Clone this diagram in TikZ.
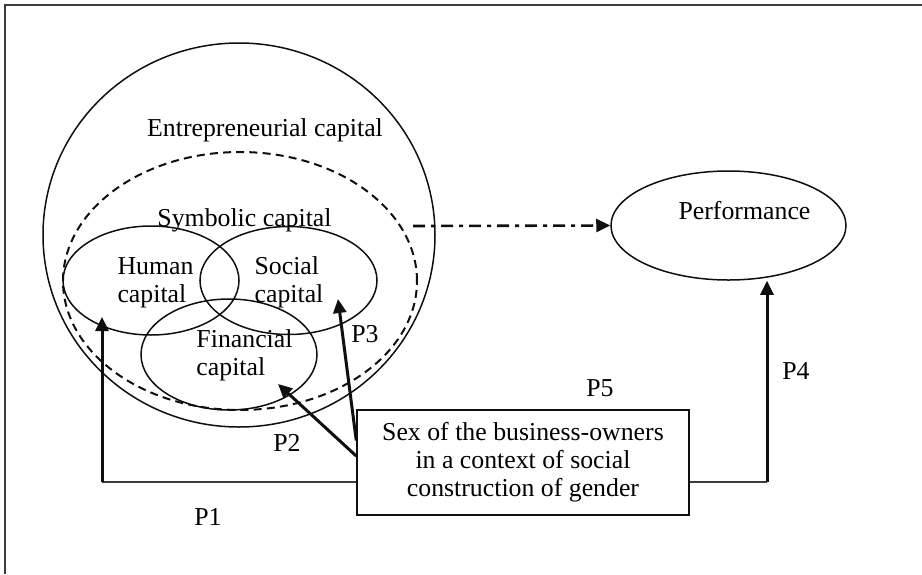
\documentclass[tikz,border=0pt]{standalone}
\usepackage{fontspec}
\setmainfont{Liberation Serif}
\usetikzlibrary{shapes.geometric, arrows.meta, positioning}
\definecolor{framecolor}{RGB}{60, 60, 60}
\definecolor{inkcolor}{RGB}{15, 15, 15}
\tikzset{
  capell/.style={
    ellipse, draw=inkcolor, line width=0.75pt, inner sep=0pt
  },
  symbell/.style={
    ellipse, draw=inkcolor, line width=1pt, inner sep=0pt,
    dash pattern=on 4pt off 2.6pt
  },
  txt/.style={font=\fontsize{12.9}{14}\selectfont, inner sep=0pt, align=left},
  sexbox/.style={
    rectangle, draw=inkcolor, line width=0.75pt,
    minimum width=166pt, minimum height=52.5pt,
    align=center, font=\fontsize{12.9}{14}\selectfont
  },
  pageframe/.style={draw=framecolor, line width=1pt},
  link/.style={line width=0.75pt, color=framecolor},
  arr/.style={-{Triangle[length=7pt, width=6.5pt]}, line width=1.5pt, color=inkcolor},
  dotarr/.style={-{Triangle[length=7pt, width=6.5pt]}, line width=1.3pt, color=inkcolor,
    dash pattern=on 6pt off 3pt on 2pt off 3pt}
}

\begin{document}
\begin{tikzpicture}[x=0.5pt, y=-0.5pt]
  \useasboundingbox (0,0) rectangle (922,574);

  % ── Frame ──────────────────────────────────────────────────────
  \draw[pageframe] (5,574) -- (5,5) -- (922,5);

  % ── Capital ellipses ───────────────────────────────────────────
  \node[capell, minimum width=196pt, minimum height=192pt] (entre) at (239,235) {};
  \node[symbell, minimum width=177pt, minimum height=129pt] (symb) at (240,281) {};
  \node[capell, minimum width=88pt, minimum height=54.5pt] (human) at (151,280.5) {};
  \node[capell, minimum width=88.5pt, minimum height=54pt] (social) at (288.5,280.5) {};
  \node[capell, minimum width=88pt, minimum height=55.5pt] (financial) at (229,354.5) {};

  \node[txt, anchor=base] (entretxt) at (265,136.7) {Entrepreneurial capital};
  \node[txt, anchor=base] (symbtxt) at (244.5,226) {Symbolic capital};
  \node[txt] (humantxt) at (155.5,282.5) {Human\\capital};
  \node[txt] (socialtxt) at (289,282.5) {Social\\capital};
  \node[txt] (financialtxt) at (244.5,354.8) {Financial\\capital};

  % ── Performance ────────────────────────────────────────────────
  \node[capell, minimum width=117.5pt, minimum height=54.5pt] (perf) at (728.5,225.5) {};
  \node[txt, anchor=base] (perftxt) at (744.5,219) {Performance};

  % ── Sex of the business-owners ─────────────────────────────────
  \node[sexbox] (sex) at (523,462.5)
    {Sex of the business-owners\\in a context of social\\construction of gender};

  % ── Propositions ───────────────────────────────────────────────
  \coordinate (p1turn) at (102,482);
  \coordinate (humantip) at (102,317);
  \coordinate (fintip) at (278,384);
  \coordinate (socialtip) at (338,299);
  \coordinate (p4turn) at (767,482);
  \coordinate (symbout) at (413,226);

  % P1: sex -> human capital
  \draw[link] (sex.west |- p1turn) -- (p1turn);
  \draw[arr] (p1turn) -- (humantip);
  \node[txt, anchor=base] (p1) at (208,525) {P1};

  % P2: sex -> financial capital
  \draw[arr] ([yshift=3.25pt]sex.west) -- (fintip);
  \node[txt, anchor=base] (p2) at (287,451.7) {P2};

  % P3: sex -> social capital
  \draw[arr] ([yshift=11pt]sex.west) -- (socialtip);
  \node[txt, anchor=base] (p3) at (365,342.7) {P3};

  % P4: sex -> performance
  \draw[link] (sex.east |- p4turn) -- (p4turn);
  \draw[arr] (p4turn) -- (p4turn |- perf.south);
  \node[txt, anchor=base] (p4) at (796,379) {P4};

  % P5: capital -> performance
  \draw[dotarr] (symbout) -- (perf.west);
  \node[txt, anchor=base] (p5) at (600,396) {P5};

\end{tikzpicture}
\end{document}
